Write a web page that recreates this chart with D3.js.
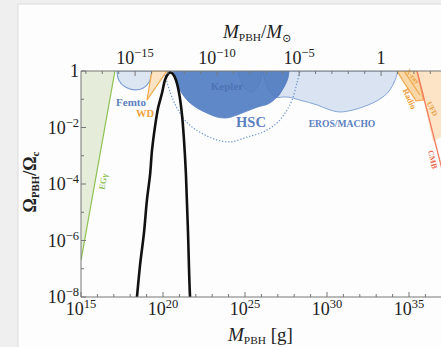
<!DOCTYPE html>
<html>
<head>
<meta charset="utf-8">
<script src="https://cdn.jsdelivr.net/npm/d3@7"></script>
<style>
  body { margin: 0; background: #efefef; }
  svg { display: block; font-family: "Liberation Serif", "DejaVu Serif", serif; }
</style>
</head>
<body>
<svg id="chart" width="441" height="347"></svg>
<script>
// all points are [log10 M/g, log10 f]
const egammaBound = [[15, -6.7], [17.07, 0], [15, 0]];
const femtoBound = [[17.2, 0], [17.3, -0.32], [17.7, -0.57], [18.3, -0.67], [18.8, -0.6], [19.15, -0.4], [19.33, 0]];
const wdBound = [[19.33, 0], [19.02, -1.03], [20.24, 0]];
const keplerBound = [[20.61, 0], [20.79, -0.39], [21.1, -0.74], [21.52, -1.06], [22.07, -1.31], [22.68, -1.49],
  [23.29, -1.63], [23.9, -1.66], [24.51, -1.56], [25.12, -1.42], [25.79, -1.27], [26.4, -1.17],
  [26.95, -0.92], [27.38, -0.57], [27.62, -0.25], [27.68, 0]];
const keplerLobe1 = [[24.57, 0], [24.76, -0.39], [25.06, -0.64], [25.37, -0.74], [25.67, -0.64], [25.91, -0.39], [26.04, 0]];
const keplerLobe2 = [[26.1, 0], [26.28, -0.46], [26.59, -0.78], [26.95, -0.92], [27.32, -0.6], [27.56, -0.25], [27.68, 0]];
const erosBound = [[25.61, 0], [25.61, -1.03], [26.71, -0.96], [27.56, -0.92], [28.35, -1.03], [29.39, -1.2],
  [30.18, -1.38], [30.79, -1.45], [31.59, -1.38], [32.2, -1.27], [32.8, -1.13], [33.41, -0.92],
  [33.84, -0.67], [34.15, -0.32], [34.33, 0]];
const hscLine = [[20.12, -0.14], [20.43, -0.74], [20.79, -1.24], [21.22, -1.66], [21.77, -1.98], [22.44, -2.23],
  [23.29, -2.44], [24.09, -2.51], [25.12, -2.34], [26.1, -2.16], [26.95, -1.84], [27.44, -1.49],
  [27.87, -1.03], [28.17, -0.42], [28.35, 0]];
const radioBound = [[34.27, 0], [34.63, -0.35], [35.43, -1.06], [35.88, -1.03], [35.49, 0]];
const xrayLine = [[34.7, 0], [35.67, -0.85]];
const ufdBound = [[35.49, 0], [38, 0], [38, -2.0], [36.46, -2.5]];
const cmbLine = [[35.49, 0], [37.5, -4.6]];
const massFunction = [[18.35, -8.3], [18.41, -8], [18.6, -6.87], [18.84, -5.73], [19.02, -4.57], [19.21, -3.68],
  [19.33, -2.8], [19.51, -1.98], [19.7, -1.31], [19.94, -0.78], [20.12, -0.32], [20.3, -0.11],
  [20.43, -0.05], [20.61, -0.11], [20.79, -0.32], [20.98, -0.78], [21.16, -1.56], [21.28, -2.44],
  [21.4, -3.68], [21.52, -5.63], [21.65, -8], [21.7, -8.3]];

const gramTicks = d3.range(15, 41);
const gramLabels = [15, 20, 25, 30, 35];
const sunTicks = d3.range(-18, 7);
const sunLabels = [-15, -10, -5, 0];
const fTicks = d3.range(-8, 1);
const fLabels = [-8, -6, -4, -2, 0];
const MSUN = 1.989e33;

const svg = d3.select('#chart');
const pLeft = 81, pTop = 71, pBottom = 297, pRight = 491;

const x = d3.scaleLog().domain([1e15, 1e40]).range([pLeft, pRight]);
const y = d3.scaleLog().domain([1e-8, 1]).range([pBottom, pTop]);
const xTop = d3.scaleLog().domain([1e15 / MSUN, 1e40 / MSUN]).range([pLeft, pRight]);

// card
svg.append('rect').attr('x', 18).attr('y', 4).attr('width', 440).attr('height', 360)
  .attr('fill', '#fdfdfd').attr('stroke', '#dcdcdc');

svg.append('clipPath').attr('id', 'plot')
  .append('rect').attr('x', pLeft).attr('y', pTop).attr('width', pRight - pLeft).attr('height', pBottom - pTop);

const g = svg.append('g').attr('clip-path', 'url(#plot)');
const line = d3.line().x(d => x(10 ** d[0])).y(d => y(10 ** d[1]));
const smooth = d3.line().x(d => x(10 ** d[0])).y(d => y(10 ** d[1])).curve(d3.curveCatmullRom);

// extragalactic gamma rays
g.append('path').attr('d', line(egammaBound) + 'Z').attr('fill', '#e5ecd9');
g.append('path').attr('d', line(egammaBound.slice(0, 2))).attr('stroke', '#8cc152').attr('stroke-width', 1.2).attr('fill', 'none');

// microlensing
g.append('path').attr('d', smooth(erosBound) + 'Z').attr('fill', '#d9e3f1').attr('stroke', '#86a6d6').attr('stroke-width', 1);
g.append('path').attr('d', smooth(keplerBound) + 'Z').attr('fill', '#5f88c8').attr('stroke', '#5a82c2').attr('stroke-width', 0.8);
[keplerLobe1, keplerLobe2].forEach(l => {
  g.append('path').attr('d', smooth(l) + 'Z').attr('fill', '#5b84c5').attr('stroke', '#5179ba').attr('stroke-width', 0.5);
});
g.append('path').attr('d', smooth(femtoBound) + 'Z').attr('fill', '#dce5f2').attr('stroke', '#7d9fd3').attr('stroke-width', 1.2);
g.append('path').attr('d', line(wdBound) + 'Z').attr('fill', '#fbe3c4').attr('stroke', '#f2aa4c').attr('stroke-width', 1.2);

// large masses
g.append('path').attr('d', line(ufdBound) + 'Z').attr('fill', '#fde4c6');
g.append('path').attr('d', line(radioBound) + 'Z').attr('fill', '#f9d7a6').attr('stroke', '#f0aa50').attr('stroke-width', 1.2);
g.append('path').attr('d', line(xrayLine)).attr('stroke', '#eea44a').attr('stroke-width', 1.2).attr('fill', 'none');
g.append('path').attr('d', line(cmbLine)).attr('stroke', '#f27a5e').attr('stroke-width', 1.3).attr('fill', 'none');

// HSC
g.append('path').attr('d', smooth(hscLine)).attr('fill', 'none').attr('stroke', '#6f96d0')
  .attr('stroke-width', 1.2).attr('stroke-dasharray', '1.3 1.8');

// mass function
g.append('path').attr('d', smooth(massFunction)).attr('fill', 'none').attr('stroke', '#111')
  .attr('stroke-width', 2.6).attr('stroke-linejoin', 'round');

// region labels
function label(t, px, py, color, size, rot) {
  svg.append('text').attr('transform', `translate(${px},${py}) rotate(${rot || 0})`)
    .attr('text-anchor', 'middle').attr('fill', color).attr('font-size', size).attr('font-weight', 'bold')
    .text(t);
}
label('Femto', 131, 106, '#5b7ec0', 11);
label('WD', 145, 117, '#efa23c', 10.5);
label('Kepler', 227, 90, '#4d74b4', 11);
label('HSC', 251, 127, '#5a80c0', 14.5);
label('EROS/MACHO', 342, 127, '#5a80c0', 9.6);
label('EGγ', 106, 182, '#8cc152', 8.5, -80);
label('Radio', 407, 100, '#eea040', 8.5, 65);
label('X-ray', 411, 78, '#eea040', 7, 50);
label('CMB', 430, 160, '#f06a50', 8, 77);
label('UFD', 430, 110, '#eea040', 7.5, 62);

// axes frame
const axisColor = '#777';
svg.append('line').attr('x1', pLeft).attr('x2', 441).attr('y1', pTop).attr('y2', pTop).attr('stroke', axisColor);
svg.append('line').attr('x1', pLeft).attr('x2', 441).attr('y1', pBottom).attr('y2', pBottom).attr('stroke', axisColor);
svg.append('line').attr('x1', pLeft).attr('x2', pLeft).attr('y1', pTop).attr('y2', pBottom).attr('stroke', axisColor);

gramTicks.forEach(e => {
  const px = x(10 ** e), len = gramLabels.includes(e) ? 5 : 3;
  svg.append('line').attr('x1', px).attr('x2', px).attr('y1', pBottom).attr('y2', pBottom - len).attr('stroke', axisColor);
});
sunTicks.forEach(e => {
  const px = xTop(10 ** e), len = sunLabels.includes(e) ? 5 : 3;
  svg.append('line').attr('x1', px).attr('x2', px).attr('y1', pTop).attr('y2', pTop + len).attr('stroke', axisColor);
});
fTicks.forEach(e => {
  const py = y(10 ** e), len = fLabels.includes(e) ? 5 : 3;
  svg.append('line').attr('x1', pLeft).attr('x2', pLeft + len).attr('y1', py).attr('y2', py).attr('stroke', axisColor);
});

function power(e, px, py, anchor) {
  const t = svg.append('text').attr('x', px).attr('y', py).attr('text-anchor', anchor)
    .attr('fill', '#222').attr('font-size', 18);
  if (e === 0) { t.text('1'); return; }
  t.append('tspan').text('10');
  t.append('tspan').attr('dy', -7).attr('font-size', 12.5).text(String(e).replace('-', '\u2212'));
}
gramLabels.forEach(e => power(e, x(10 ** e), 315, 'middle'));
sunLabels.forEach(e => power(e, xTop(10 ** e), 64, 'middle'));
fLabels.forEach(e => power(e, 79, y(10 ** e) + 6, 'end'));

// titles
function title(parts, px, py, size, rot, anchor) {
  const t = svg.append('text').attr('transform', `translate(${px},${py}) rotate(${rot})`)
    .attr('text-anchor', anchor).attr('font-size', size).attr('fill', '#222');
  parts.forEach(p => {
    const s = t.append('tspan').text(p.t);
    if (p.sub) s.attr('font-size', size * 0.6).attr('dy', p.dy);
    else if (p.dy) s.attr('dy', p.dy);
    if (p.it) s.attr('font-style', 'italic');
    if (p.bold) s.attr('font-weight', 'bold');
  });
}
title([{ t: 'M', it: true }, { t: 'PBH', sub: true, dy: 3 }, { t: '/', dy: -3 }, { t: 'M', it: true }, { t: '\u2299', sub: true, dy: 4 }],
  223, 38, 19, 0, 'start');
title([{ t: 'M', it: true }, { t: 'PBH', sub: true, dy: 3 }, { t: ' [g]', dy: -3 }], 228, 341, 19, 0, 'start');
title([{ t: '\u03a9', bold: true }, { t: 'PBH', sub: true, dy: 3, bold: true }, { t: '/\u03a9', dy: -3, bold: true }, { t: 'c', sub: true, dy: 3, bold: true }],
  36, 182, 18, -90, 'middle');
</script>
</body>
</html>
